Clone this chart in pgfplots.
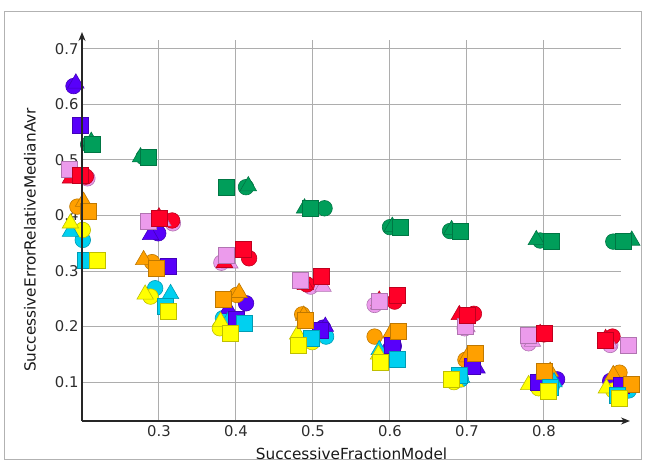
\documentclass[border=0pt]{standalone}
\usepackage{fontspec}
\setmainfont{DejaVu Sans}
\usepackage{pgfplots}
\pgfplotsset{compat=1.18}
\usetikzlibrary{arrows.meta}
\definecolor{cG}{RGB}{0,158,90}
\definecolor{cP}{RGB}{236,155,236}
\definecolor{cR}{RGB}{255,0,40}
\definecolor{cB}{RGB}{88,0,250}
\definecolor{cO}{RGB}{255,160,0}
\definecolor{cC}{RGB}{0,208,240}
\definecolor{cY}{RGB}{255,255,0}
\definecolor{txt}{RGB}{45,45,45}
\pgfplotsset{
  circ/.style={only marks, mark=*, mark size=7.8bp, mark options={fill=#1, draw=#1!75!black, line width=0.6bp}},
  tri/.style={only marks, mark=triangle*, mark size=9.5bp, mark options={fill=#1, draw=#1!75!black, line width=0.6bp}},
  sqr/.style={only marks, mark=square*, mark size=8bp, mark options={fill=#1, draw=#1!75!black, line width=0.6bp}},
}
\begin{document}
\begin{tikzpicture}
\path[use as bounding box] (-82bp,-42bp) rectangle (565bp,421bp);
\draw[black!30, line width=1bp] (-77bp,-38bp) rectangle (559bp,409bp);
\begin{axis}[
  at={(0,0)}, anchor=south west,
  scale only axis, width=539bp, height=381bp,
  xmin=0.2, xmax=0.9, ymin=0.03, ymax=0.716,
  clip=false,
  axis lines=left,
  x axis line style={draw=none,-},
  y axis line style={draw=none,-},
  xtick={0.3,0.4,0.5,0.6,0.7,0.8},
  ytick={0.1,0.2,0.3,0.4,0.5,0.6,0.7},
  major tick length=0pt,
  grid=major,
  grid style={line width=1bp, color=black!32},
  /pgf/number format/assume math mode=true,
  /pgf/number format/fixed,
  /pgf/number format/precision=1,
  ticklabel style={font=\fontsize{14.8bp}{17bp}\selectfont, text=txt},
  xticklabel style={yshift=-1bp},
  yticklabel style={xshift=0bp},
  xlabel={SuccessiveFractionModel},
  ylabel={SuccessiveErrorRelativeMedianAvr},
  label style={font=\fontsize{15.3bp}{18bp}\selectfont, text=black!90},
  xlabel style={at={(axis description cs:0.5,-0.0866)}, anchor=center},
  ylabel style={at={(axis description cs:-0.0965,0.475)}, anchor=center},
]
% circles
\addplot[circ=cG] coordinates {(0.208,0.528)(0.28,0.505)(0.413,0.451)(0.515,0.413)(0.60,0.379)(0.678,0.372)(0.795,0.355)(0.89,0.353)};
\addplot[circ=cP] coordinates {(0.207,0.467)(0.318,0.386)(0.381,0.315)(0.497,0.272)(0.58,0.239)(0.697,0.197)(0.78,0.17)(0.886,0.167)};
\addplot[circ=cR] coordinates {(0.205,0.47)(0.317,0.391)(0.417,0.323)(0.492,0.276)(0.606,0.245)(0.709,0.223)(0.80,0.186)(0.889,0.182)};
\addplot[circ=cB] coordinates {(0.189,0.633)(0.299,0.368)(0.413,0.242)(0.513,0.198)(0.605,0.165)(0.705,0.13)(0.817,0.105)(0.886,0.102)};
\addplot[circ=cO] coordinates {(0.194,0.416)(0.291,0.316)(0.401,0.257)(0.486,0.222)(0.58,0.182)(0.698,0.14)(0.80,0.115)(0.898,0.117)};
\addplot[circ=cC] coordinates {(0.201,0.356)(0.295,0.269)(0.383,0.215)(0.517,0.182)(0.605,0.145)(0.692,0.105)(0.81,0.092)(0.91,0.085)};
\addplot[circ=cY] coordinates {(0.201,0.374)(0.289,0.254)(0.379,0.197)(0.499,0.172)(0.595,0.14)(0.683,0.1)(0.793,0.089)(0.89,0.085)};
% triangles
\addplot[tri=cG] coordinates {(0.212,0.533)(0.276,0.505)(0.416,0.453)(0.489,0.413)(0.603,0.38)(0.68,0.374)(0.79,0.356)(0.914,0.355)};
\addplot[tri=cP] coordinates {(0.196,0.47)(0.305,0.39)(0.392,0.314)(0.513,0.272)(0.585,0.24)(0.70,0.199)(0.785,0.173)(0.885,0.17)};
\addplot[tri=cR] coordinates {(0.185,0.467)(0.30,0.397)(0.385,0.315)(0.49,0.275)(0.586,0.247)(0.69,0.221)(0.795,0.187)(0.88,0.178)};
\addplot[tri=cB] coordinates {(0.192,0.638)(0.289,0.365)(0.39,0.232)(0.516,0.2)(0.60,0.17)(0.713,0.125)(0.81,0.1)(0.905,0.09)};
\addplot[tri=cO] coordinates {(0.202,0.425)(0.28,0.32)(0.404,0.261)(0.488,0.22)(0.601,0.188)(0.70,0.145)(0.808,0.119)(0.89,0.113)};
\addplot[tri=cC] coordinates {(0.185,0.371)(0.315,0.259)(0.39,0.21)(0.51,0.19)(0.586,0.158)(0.693,0.108)(0.813,0.1)(0.903,0.09)};
\addplot[tri=cY] coordinates {(0.185,0.386)(0.282,0.258)(0.38,0.209)(0.48,0.186)(0.585,0.15)(0.685,0.1)(0.78,0.095)(0.881,0.089)};
% squares
\addplot[sqr=cG] coordinates {(0.214,0.528)(0.286,0.504)(0.388,0.451)(0.497,0.413)(0.613,0.378)(0.691,0.371)(0.809,0.353)(0.903,0.353)};
\addplot[sqr=cP] coordinates {(0.183,0.483)(0.286,0.389)(0.387,0.329)(0.484,0.284)(0.586,0.245)(0.698,0.2)(0.78,0.185)(0.91,0.167)};
\addplot[sqr=cR] coordinates {(0.198,0.473)(0.301,0.395)(0.41,0.339)(0.511,0.29)(0.61,0.257)(0.70,0.221)(0.80,0.188)(0.879,0.176)};
\addplot[sqr=cB] coordinates {(0.198,0.562)(0.312,0.309)(0.40,0.213)(0.509,0.194)(0.603,0.167)(0.707,0.128)(0.792,0.1)(0.90,0.095)};
\addplot[sqr=cO] coordinates {(0.208,0.407)(0.297,0.305)(0.383,0.249)(0.49,0.211)(0.611,0.191)(0.711,0.152)(0.80,0.119)(0.914,0.096)};
\addplot[sqr=cC] coordinates {(0.204,0.319)(0.308,0.237)(0.411,0.206)(0.498,0.179)(0.61,0.141)(0.69,0.113)(0.808,0.09)(0.895,0.077)};
\addplot[sqr=cY] coordinates {(0.22,0.319)(0.312,0.228)(0.393,0.188)(0.481,0.167)(0.588,0.135)(0.679,0.105)(0.806,0.083)(0.898,0.071)};
\end{axis}
\draw[line width=1.8bp, black!85, -{Stealth[length=9bp,width=7bp]}] (0,0) -- (0,389bp);
\draw[line width=1.8bp, black!85, -{Stealth[length=9bp,width=7bp]}] (0,0) -- (548bp,0);
\end{tikzpicture}
\end{document}
